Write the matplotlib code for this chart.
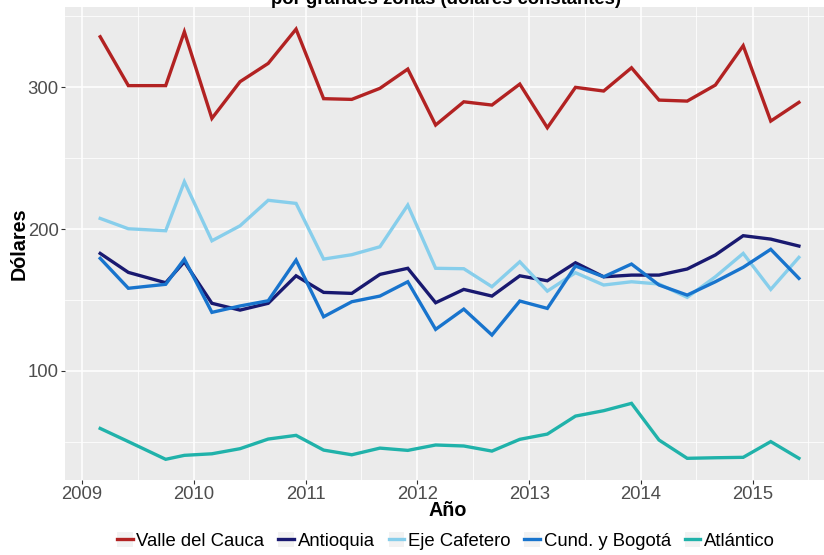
import matplotlib
matplotlib.use("Agg")
import matplotlib.pyplot as plt
import matplotlib.dates as mdates
from matplotlib.lines import Line2D
from matplotlib.patches import Rectangle
from matplotlib.legend_handler import HandlerLine2D
import pandas as pd

# ── Datos ─────────────────────────────────────────────────────────────────────
FECHAS = [
    "2009-03-01", "2009-06-01", "2009-10-01", "2009-12-01",
    "2010-03-01", "2010-06-01", "2010-09-01", "2010-12-01",
    "2011-03-01", "2011-06-01", "2011-09-01", "2011-12-01",
    "2012-03-01", "2012-06-01", "2012-09-01", "2012-12-01",
    "2013-03-01", "2013-06-01", "2013-09-01", "2013-12-01",
    "2014-03-01", "2014-06-01", "2014-09-01", "2014-12-01",
    "2015-03-01", "2015-06-01",
]

valle = [335.7, 301.2, 301.2, 339.2, 278.1, 304.0, 316.9, 341.1, 292.0, 291.5,
         299.3, 312.9, 273.4, 289.8, 287.5, 302.3, 271.5, 300.0, 297.4, 313.8,
         291.0, 290.3, 301.6, 329.4, 276.2, 289.4]
antioquia = [182.8, 169.4, 162.1, 176.9, 147.6, 142.8, 147.6, 167.0, 155.3, 154.6,
             168.0, 172.3, 148.0, 157.4, 152.7, 167.0, 163.5, 176.2, 166.3, 167.5,
             167.5, 171.8, 181.7, 195.3, 192.9, 188.0]
eje_cafetero = [207.5, 200.2, 198.8, 233.4, 191.7, 202.3, 220.3, 218.1, 178.8, 181.9,
                187.5, 216.9, 172.3, 172.0, 159.3, 176.9, 156.2, 169.2, 160.5, 162.8,
                161.2, 151.8, 166.3, 182.8, 157.4, 180.0]
cund_bogota = [179.3, 158.2, 161.0, 178.8, 141.2, 145.7, 149.4, 178.1, 138.1, 148.7,
               152.7, 162.8, 129.2, 143.5, 125.2, 149.2, 144.0, 173.9, 166.3, 175.3,
               160.5, 153.4, 162.8, 173.0, 185.7, 165.2]
atlantico = [59.3, 50.0, 37.5, 40.3, 41.4, 45.0, 51.8, 54.4, 44.0, 40.7,
             45.4, 43.8, 47.6, 46.9, 43.3, 51.6, 55.3, 68.0, 71.8, 77.0,
             51.1, 38.2, 38.6, 38.9, 50.0, 38.2]

SERIES = [
    ("Valle del Cauca", valle,        "#B22222"),
    ("Antioquia",       antioquia,    "#191970"),
    ("Eje Cafetero",    eje_cafetero, "#87CEEB"),
    ("Cund. y Bogotá",  cund_bogota,  "#1874CD"),
    ("Atlántico",       atlantico,    "#20B2AA"),
]

FONT = ["Liberation Sans", "DejaVu Sans"]
FS = 13.3        # ticks y leyenda
FS_TIT = 14.2    # títulos de ejes
GRIS_TXT = "#4D4D4D"
LW = 2.4


class KeyHandler(HandlerLine2D):
    """Clave de leyenda estilo ggplot: cuadrado gris con la línea."""
    def create_artists(self, legend, orig_handle, xdescent, ydescent,
                       width, height, fontsize, trans):
        arts = super().create_artists(legend, orig_handle, xdescent, ydescent,
                                      width, height, fontsize, trans)
        bg = Rectangle((-xdescent, -ydescent), width, height,
                       facecolor="#F2F2F2", edgecolor="none", transform=trans)
        return [bg] + list(arts)


def main():
    plt.rcParams["font.family"] = FONT
    W, H = 824, 555
    fig = plt.figure(figsize=(W / 100, H / 100), dpi=100, facecolor="white")

    # panel en píxeles: x 65..824, y 7..480
    ax = fig.add_axes([65 / W, (H - 480) / H, (824 - 65) / W, (480 - 7) / H])
    ax.set_facecolor("#EBEBEB")

    fechas = pd.to_datetime(FECHAS)
    for nombre, vals, color in SERIES:
        ax.plot(fechas, vals, color=color, lw=LW, label=nombre,
                solid_joinstyle="miter", zorder=3)

    ax.set_xlim(pd.Timestamp("2008-11-06"), pd.Timestamp("2015-08-22"))
    ax.set_ylim(22.9, 356.7)

    ax.xaxis.set_major_locator(mdates.YearLocator())
    ax.xaxis.set_major_formatter(mdates.DateFormatter("%Y"))
    ax.xaxis.set_minor_locator(mdates.MonthLocator(bymonth=7))
    ax.set_yticks([100, 200, 300])
    ax.set_yticks([50, 150, 250, 350], minor=True)

    ax.grid(which="major", color="white", lw=1.1, zorder=1)
    ax.grid(which="minor", color="white", lw=0.55, zorder=1)
    ax.set_axisbelow(True)
    for s in ax.spines.values():
        s.set_visible(False)

    ax.tick_params(which="major", length=3, width=0.8, color="#333333",
                   labelsize=FS, labelcolor=GRIS_TXT, pad=1.5)
    ax.tick_params(which="minor", length=0)

    # títulos (el primer renglón del título queda fuera de la imagen)
    fig.text(446 / W, 1 - 3.5 / H, "por grandes zonas (dólares constantes)",
             ha="center", va="baseline", fontsize=FS, fontweight="bold")
    fig.text(19 / W, 1 - 244 / H, "Dólares", rotation=90, ha="center",
             va="center", fontsize=FS_TIT, fontweight="bold")
    fig.text(448 / W, 1 - 511 / H, "Año", ha="center", va="center",
             fontsize=FS_TIT, fontweight="bold")

    handles = [Line2D([], [], color=c, lw=LW) for _, _, c in SERIES]
    labels = [n for n, _, _ in SERIES]
    fig.legend(handles, labels, loc="center", bbox_to_anchor=(446 / W, 1 - 541 / H),
               ncol=5, frameon=False, fontsize=FS, handlelength=0.85,
               handleheight=0.9, handletextpad=0.2, columnspacing=0.75,
               borderpad=0, borderaxespad=0,
               handler_map={Line2D: KeyHandler()})

    fig.savefig("out.png", dpi=100, facecolor="white")
    plt.close(fig)


if __name__ == "__main__":
    main()
